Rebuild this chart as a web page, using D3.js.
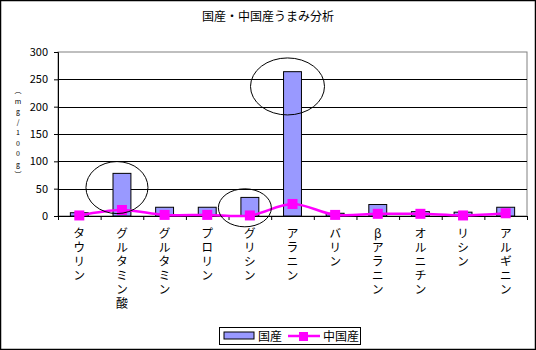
<!DOCTYPE html>
<html>
<head>
<meta charset="utf-8">
<script src="https://cdn.jsdelivr.net/npm/d3@7"></script>
<style>
  body { margin: 0; background: #fff; }
  text { font-family: "Noto Sans CJK JP", "DejaVu Sans", sans-serif; }
</style>
</head>
<body>
<div id="chart"></div>
<script>
// amino acid categories
const categories = ["タウリン", "グルタミン酸", "グルタミン", "プロリン", "グリシン", "アラニン",
    "バリン", "βアラニン", "オルニチン", "リシン", "アルギニン"];
// mg/100g
const domestic = [6, 78, 16, 16, 34, 264, 5, 21, 8, 7, 16];
const chinese = [1, 11, 2, 2, 1, 22, 2, 4, 4, 1, 5];
const yTicks = [0, 50, 100, 150, 200, 250, 300];
const seriesNames = ["国産", "中国産"];
// circled categories: [category, center value]
const highlights = [["グルタミン酸", 52, 31, 26], ["グリシン", 15, 26.5, 19], ["アラニン", 237, 37, 28.5]];

const W = 536, H = 350;
const margin = { top: 52, right: 9, bottom: 134, left: 58 };
const width = W - margin.left - margin.right;
const height = H - margin.top - margin.bottom;

const svg = d3.select("#chart").append("svg")
    .attr("width", W).attr("height", H);

svg.append("rect")
    .attr("x", 0.5).attr("y", 0.5)
    .attr("width", W - 1).attr("height", H - 1)
    .attr("fill", "#fff").attr("stroke", "#000").attr("stroke-width", 1.5);

svg.append("text")
    .attr("x", W / 2).attr("y", 21)
    .attr("text-anchor", "middle")
    .attr("font-size", 12)
    .text("国産・中国産うまみ分析");

const g = svg.append("g").attr("transform", `translate(${margin.left},${margin.top})`);

const x = d3.scaleBand().domain(categories).range([0, width]).paddingInner(0.58).paddingOuter(0.29);
const xBand = d3.scaleBand().domain(categories).range([0, width]);
const y = d3.scaleLinear().domain([0, 300]).range([height, 0]);

// plot area border (gray top and right)
g.append("rect")
    .attr("x", 0).attr("y", 0).attr("width", width).attr("height", height)
    .attr("fill", "#fff").attr("stroke", "#808080").attr("stroke-width", 1);

// grid
g.selectAll(".grid").data(yTicks.filter(d => d > 0 && d < 300)).enter()
    .append("line")
    .attr("x1", 0).attr("x2", width)
    .attr("y1", d => Math.round(y(d)) + 0.5).attr("y2", d => Math.round(y(d)) + 0.5)
    .attr("stroke", "#000").attr("stroke-width", 1);

// y axis
const yAxis = g.append("g")
    .call(d3.axisLeft(y).tickValues(yTicks).tickSize(4).tickPadding(6));
yAxis.select(".domain").attr("stroke", "#000");
yAxis.selectAll("text").attr("font-size", 11).attr("font-family", "Arial, 'Liberation Sans', sans-serif");

// bars
g.selectAll(".bar").data(categories).enter()
    .append("rect")
    .attr("x", d => x(d))
    .attr("y", (d, i) => y(domestic[i]))
    .attr("width", x.bandwidth())
    .attr("height", (d, i) => height - y(domestic[i]))
    .attr("fill", "#9999ff")
    .attr("stroke", "#000").attr("stroke-width", 1);

// x axis with ticks between categories
g.append("line")
    .attr("x1", 0).attr("x2", width)
    .attr("y1", height + 0.5).attr("y2", height + 0.5)
    .attr("stroke", "#000");
g.selectAll(".xtick").data(d3.range(categories.length + 1)).enter()
    .append("line")
    .attr("x1", i => i * xBand.step() + 0.5).attr("x2", i => i * xBand.step() + 0.5)
    .attr("y1", height).attr("y2", height + 4)
    .attr("stroke", "#000");

// vertical category labels
g.selectAll(".xlabel").data(categories).enter()
    .append("text")
    .attr("x", d => xBand(d) + xBand.bandwidth() / 2)
    .attr("y", height + 11)
    .attr("font-size", 12)
    .style("writing-mode", "vertical-rl")
    .style("text-orientation", "upright")
    .style("letter-spacing", "2px")
    .text(d => d);

// line series
const line = d3.line()
    .x((d, i) => xBand(categories[i]) + xBand.bandwidth() / 2)
    .y(d => y(d))
    .curve(d3.curveCatmullRom.alpha(0.5));
g.append("path")
    .datum(chinese)
    .attr("d", line)
    .attr("fill", "none")
    .attr("stroke", "#ff00ff").attr("stroke-width", 2.5);
g.selectAll(".marker").data(chinese).enter()
    .append("rect")
    .attr("x", (d, i) => xBand(categories[i]) + xBand.bandwidth() / 2 - 5)
    .attr("y", d => y(d) - 5)
    .attr("width", 10).attr("height", 10)
    .attr("fill", "#ff00ff");

// highlight ellipses
g.selectAll(".hl").data(highlights).enter()
    .append("ellipse")
    .attr("cx", d => xBand(d[0]) + xBand.bandwidth() / 2 - 5)
    .attr("cy", d => y(d[1]))
    .attr("rx", d => d[2]).attr("ry", d => d[3])
    .attr("fill", "none").attr("stroke", "#000").attr("stroke-width", 1);

// y axis title, stacked characters
svg.append("text")
    .attr("x", 18).attr("y", 87)
    .attr("font-size", 7)
    .style("writing-mode", "vertical-rl")
    .style("text-orientation", "upright")
    .style("letter-spacing", "3.5px")
    .text("（mg/100g）");

// legend
const lg = svg.append("g").attr("transform", "translate(219,327)");
lg.append("rect").attr("x", 0.5).attr("y", 0.5).attr("width", 141).attr("height", 17)
    .attr("fill", "#fff").attr("stroke", "#000");
lg.append("rect").attr("x", 5).attr("y", 5).attr("width", 30).attr("height", 7)
    .attr("fill", "#9999ff").attr("stroke", "#000");
lg.append("text").attr("x", 39).attr("y", 13.5).attr("font-size", 12).text(seriesNames[0]);
lg.append("line").attr("x1", 69).attr("x2", 101).attr("y1", 9).attr("y2", 9)
    .attr("stroke", "#ff00ff").attr("stroke-width", 2.5);
lg.append("rect").attr("x", 80).attr("y", 5).attr("width", 9).attr("height", 9).attr("fill", "#ff00ff");
lg.append("text").attr("x", 104).attr("y", 13.5).attr("font-size", 12).text(seriesNames[1]);
</script>
</body>
</html>
